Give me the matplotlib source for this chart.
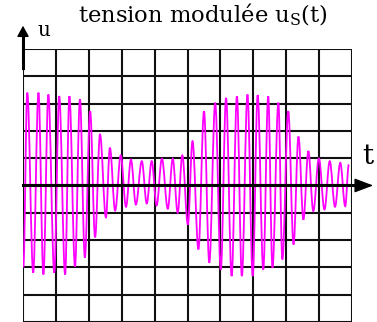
#!/usr/bin/python
# -*- coding: utf-8 -*-
"""
    tension modulee u_S(t) : trace oscillo sur grille 10 x 10
"""
import numpy as np
import matplotlib
matplotlib.use('Agg')
import matplotlib.pyplot as plt
from matplotlib.path import Path
from matplotlib.patches import PathPatch

plt.rcParams['font.family'] = ['DejaVu Serif']
plt.rcParams['mathtext.fontset'] = 'custom'
plt.rcParams['mathtext.rm'] = 'DejaVu Serif'

t_ext = [0.01, 0.13, 0.31, 0.47, 0.62, 0.77, 0.95, 1.10, 1.28, 1.41,
         1.58, 1.73, 1.88, 2.04, 2.19, 2.34, 2.52, 2.64, 2.80, 2.97,
         3.13, 3.28, 3.43, 3.61, 3.76, 3.91, 4.06, 4.22, 4.40, 4.55,
         4.70, 4.84, 5.01, 5.15, 5.33, 5.50, 5.66, 5.84, 6.01, 6.17,
         6.34, 6.50, 6.65, 6.82, 6.98, 7.13, 7.30, 7.45, 7.58, 7.76,
         7.88, 8.06, 8.22, 8.37, 8.52, 8.67, 8.82, 8.99, 9.16, 9.32,
         9.48, 9.64, 9.79, 9.90]
u_ext = [-3.00, 3.40, -3.19, 3.40, -3.26, 3.33, -3.19, 3.27, -3.26, 3.27,
         -2.97, 3.15, -2.64, 2.72, -1.90, 1.87, -1.17, 1.38, -0.92, 1.10,
         -0.78, 0.95, -0.70, 0.89, -0.66, 0.89, -0.73, 0.98, -0.85, 0.98,
         -1.00, 1.10, -1.43, 1.62, -2.34, 2.72, -2.83, 3.03, -3.08, 3.21,
         -3.32, 3.27, -3.32, 3.33, -3.32, 3.31, -3.08, 3.27, -3.01, 3.03,
         -2.71, 2.72, -2.16, 1.79, -1.25, 1.26, -0.94, 0.99, -0.88, 0.89,
         -0.78, 0.83, -0.76, 0.77]

n_div_x = 10
n_div_y = 10
title = r'tension modulée u$_{\mathrm{S}}$(t)'

fig = plt.figure(figsize=(3.77, 3.22), dpi=100, facecolor='w')
ax = fig.add_axes([0.061, 0.0, 0.873, 0.848])
ax.set_xlim(0, n_div_x)
ax.set_ylim(-n_div_y / 2, n_div_y / 2)
ax.axis('off')

# grille
for i in range(n_div_x + 1):
    ax.axvline(i, color='#111111', lw=1.5, zorder=1)
for j in range(n_div_y + 1):
    ax.axhline(j - n_div_y / 2, color='#111111', lw=1.5, zorder=1)

# trace : arcs entre extremums (tangentes horizontales)
k = 1 - 2 / np.pi
verts = [(t_ext[0], u_ext[0])]
codes = [Path.MOVETO]
for i in range(len(t_ext) - 1):
    x0, y0 = t_ext[i], u_ext[i]
    x1, y1 = t_ext[i + 1], u_ext[i + 1]
    dx = x1 - x0
    verts += [(x0 + k * dx, y0), (x1 - k * dx, y1), (x1, y1)]
    codes += [Path.CURVE4] * 3
ax.add_patch(PathPatch(Path(verts, codes), facecolor='none', edgecolor='#ff00ff',
                       lw=1.3, zorder=3))

# axes avec fleches
ax.plot([0, 10.2], [0, 0], color='k', lw=2.2, zorder=4, clip_on=False)
ax.annotate('', xy=(10.64, 0), xytext=(10.1, 0), annotation_clip=False,
            arrowprops=dict(arrowstyle='-|>,head_length=0.58,head_width=0.22',
                            mutation_scale=20, color='k', lw=1, shrinkA=0, shrinkB=0))
ax.plot([0, 0], [4.3, 5.6], color='k', lw=2.2, zorder=4, clip_on=False)
ax.annotate('', xy=(0, 5.85), xytext=(0, 5.4), annotation_clip=False,
            arrowprops=dict(arrowstyle='-|>,head_length=0.33,head_width=0.18',
                            mutation_scale=20, color='k', lw=1, shrinkA=0, shrinkB=0))

ax.text(0.63, 5.66, 'u', fontsize=14.5, ha='center', va='center', clip_on=False)
ax.text(10.49, 1.06, 't', fontsize=20, ha='center', va='center', clip_on=False)
ax.text(5.46, 5.97, title, fontsize=16.3, ha='center', va='baseline', clip_on=False)

plt.savefig('out.png', dpi=100)
plt.close()
